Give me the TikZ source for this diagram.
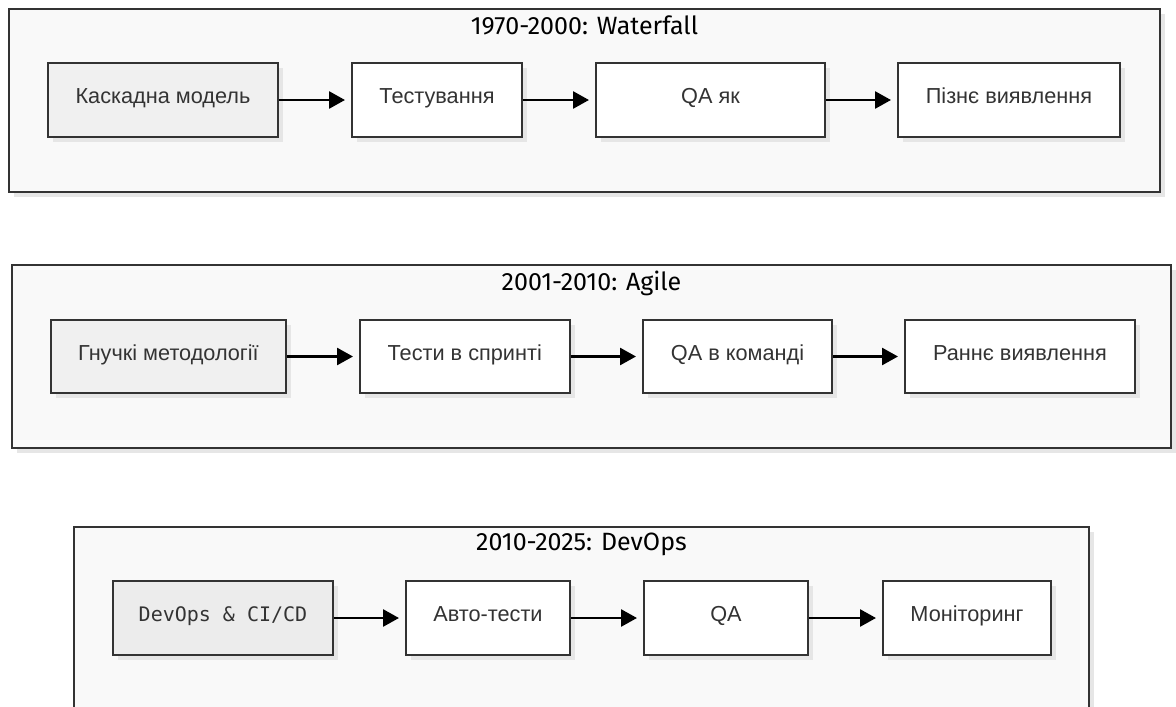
\documentclass[tikz,border=0pt]{standalone}
\usepackage{fontspec}
\setmainfont{Liberation Sans}
\newfontfamily\titlefont{Fira Sans}
\newfontfamily\codefont{DejaVu Sans Mono}
\usetikzlibrary{arrows.meta,shadows}
\definecolor{ink}{HTML}{333333}
\definecolor{lanefill}{HTML}{F9F9F9}
\definecolor{startfill}{HTML}{F0F0F0}
\definecolor{startfillb}{HTML}{ECECEC}
\definecolor{shade}{HTML}{E6E6E6}
\tikzset{
  lane/.style={draw=ink, line width=2pt, fill=lanefill,
    drop shadow={shadow xshift=5pt, shadow yshift=-5pt, fill=shade, opacity=1}},
  lanetitle/.style={font=\titlefont\fontsize{25}{28}\selectfont, text=black, inner sep=0pt},
  stepbox/.style={draw=ink, line width=2pt, fill=white, inner sep=0pt,
    minimum height=74pt, text=ink, font=\fontsize{21.7}{25}\selectfont,
    text height=0.72em, text depth=0pt,
    drop shadow={shadow xshift=5pt, shadow yshift=-5pt, fill=shade, opacity=1}},
  startbox/.style={stepbox, fill=startfill},
  flow/.style={draw=black, line width=2.7pt, shorten >=6pt,
    -{Triangle[length=16pt,width=17pt]}}
}
\begin{document}
\begin{tikzpicture}[x=1pt,y=-1pt]
\useasboundingbox (0,0) rectangle (1176,707);
\clip (0,0) rectangle (1176,707);
\fill[white] (0,0) rectangle (1176,707);

% --- lanes ---
\draw[lane] (9,9) rectangle (1160,191.5);
\node[lanetitle] (t1) at (584.5,25) {1970-2000: Waterfall};
\draw[lane] (11.5,265) rectangle (1171,447.5);
\node[lanetitle] (t2) at (591.5,283) {2001-2010: Agile};
\draw[lane] (74,527) rectangle (1089,740);
\node[lanetitle] (t3) at (581.5,544) {2010-2025: DevOps};

% --- Waterfall ---
\node[startbox, minimum width=230pt] (w1) at (163,100) {Каскадна модель};
\node[stepbox, minimum width=170pt] (w2) at (437,100) {Тестування};
\node[stepbox, minimum width=229pt] (w3) at (710.5,100) {QA як};
\node[stepbox, minimum width=222pt] (w4) at (1009,100) {Пізнє виявлення};
\draw[flow] (w1) -- (w2);
\draw[flow] (w2) -- (w3);
\draw[flow] (w3) -- (w4);

% --- Agile ---
\node[startbox, minimum width=235pt, minimum height=73pt] (a1) at (168.5,356.5) {Гнучкі методології};
\node[stepbox, minimum width=209.5pt, minimum height=73pt] (a2) at (464.75,356.5) {Тести в спринті};
\node[stepbox, minimum width=189pt, minimum height=73pt] (a3) at (737.5,356.5) {QA в команді};
\node[stepbox, minimum width=230pt, minimum height=73pt] (a4) at (1020,356.5) {Раннє виявлення};
\draw[flow] (a1) -- (a2);
\draw[flow] (a2) -- (a3);
\draw[flow] (a3) -- (a4);

% --- DevOps ---
\node[startbox, fill=startfillb, minimum width=220pt, font=\codefont\fontsize{20}{24}\selectfont] (d1) at (223,618) {DevOps \& CI/CD};
\node[stepbox, minimum width=164pt] (d2) at (488,618) {Авто-тести};
\node[stepbox, minimum width=164pt] (d3) at (726,618) {QA};
\node[stepbox, minimum width=168pt] (d4) at (967,618) {Моніторинг};
\draw[flow] (d1) -- (d2);
\draw[flow] (d2) -- (d3);
\draw[flow] (d3) -- (d4);
\end{tikzpicture}
\end{document}
